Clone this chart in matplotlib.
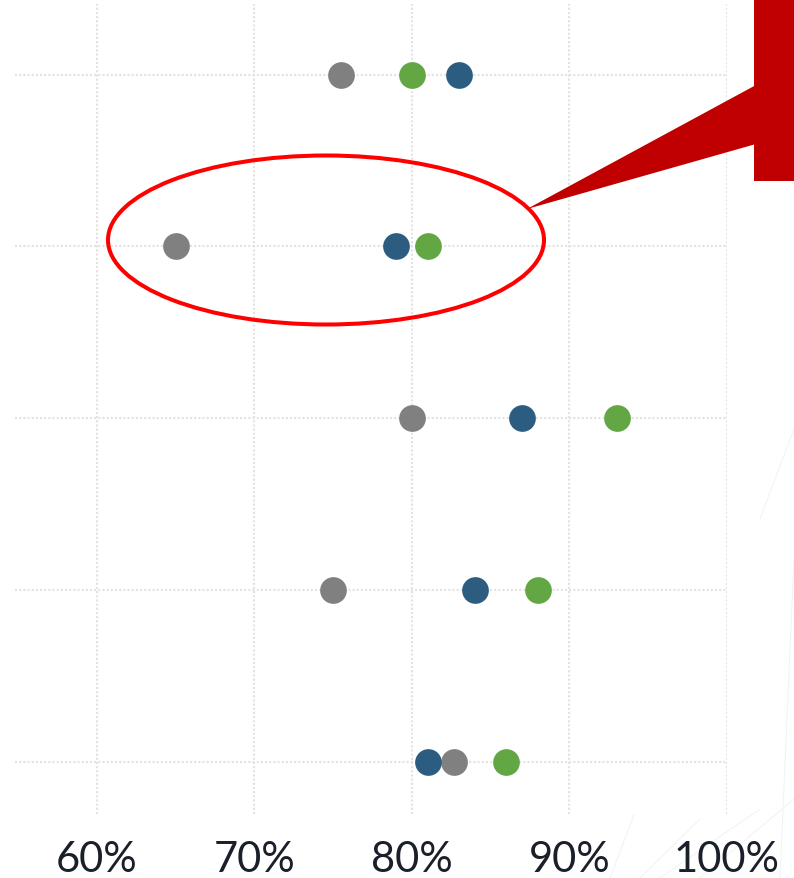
import matplotlib
matplotlib.use("Agg")
import matplotlib.pyplot as plt
from matplotlib.patches import Ellipse, Polygon, Rectangle

# Five comparison rows, three series per row (values in %)
rows = [0, 1, 2, 3, 4]
series_gray = [75.5, 65, 80, 75, 82.7]
series_blue = [83, 79, 87, 84, 81]
series_green = [80, 81, 93, 88, 86]
x_ticks = [60, 70, 80, 90, 100]
x_tick_labels = ["60%", "70%", "80%", "90%", "100%"]

W, H = 794, 879
fig = plt.figure(figsize=(W / 100, H / 100), dpi=100)
fig.patch.set_facecolor("white")


def fx(x):
    return x / W


def fy(y):
    return 1 - y / H


ax = fig.add_axes([fx(15), fy(815), (727 - 15) / W, (815 - 5) / H])
ax.set_xlim(54.8, 100)
ax.set_ylim(4.3, -0.41)

grid_kw = dict(color="#e2e2e2", lw=1.5, ls=(0, (1, 1)), zorder=1)
for t in x_ticks:
    ax.axvline(t, **grid_kw)
for r in rows:
    ax.axhline(r, **grid_kw)

dot = 370
ax.scatter(series_gray, rows, s=dot, color="#808080", zorder=3, linewidths=0)
ax.scatter(series_blue, rows, s=dot, color="#2c5d80", zorder=4, linewidths=0)
ax.scatter(series_green, rows, s=dot, color="#62a744", zorder=5, linewidths=0)

ax.set_xticks(x_ticks)
ax.set_xticklabels(x_tick_labels, fontsize=30, color="#1b1f2a",
                   family=["Lato", "DejaVu Sans"])
ax.set_yticks([])
ax.tick_params(axis="x", length=0, pad=19)
for s in ax.spines.values():
    s.set_visible(False)

# Faint background strokes in the lower right corner
faint = "#f1f2f5"
for (x0, y0, x1, y1) in [(610, 879, 640, 800), (640, 879, 700, 820),
                         (700, 879, 794, 800), (660, 879, 760, 810),
                         (760, 520, 794, 430), (780, 879, 794, 560)]:
    fig.add_artist(plt.Line2D([fx(x0), fx(x1)], [fy(y0), fy(y1)],
                              color=faint, lw=0.7, transform=fig.transFigure,
                              zorder=0))

# Highlight ellipse around the second row
ell = Ellipse((fx(326), fy(241)), width=436 / W, height=169 / H,
              transform=fig.transFigure, fill=False, edgecolor="#ff0000",
              lw=2.9, zorder=10)
fig.add_artist(ell)

# Callout box with pointer
fig.add_artist(Polygon([(fx(756), fy(86)), (fx(527), fy(210)), (fx(756), fy(145))],
                       closed=True, transform=fig.transFigure,
                       facecolor="#c00000", edgecolor="none", zorder=11))
fig.add_artist(Rectangle((fx(754), fy(182)), (W - 754) / W, 182 / H,
                         transform=fig.transFigure, facecolor="#c00000",
                         edgecolor="none", zorder=11))

fig.savefig("out.png", dpi=100)
